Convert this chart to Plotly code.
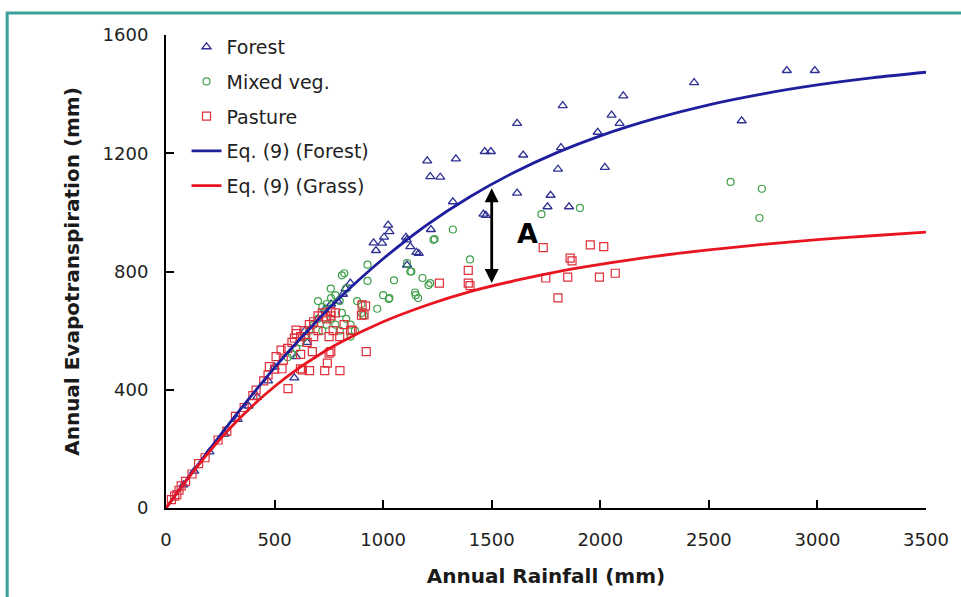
import plotly.graph_objects as go

forest_p = [2859, 2988, 2432, 2106, 1827, 2052, 2089, 2651, 1617, 1988, 1819, 1468, 1496, 1645,
            1335, 1203, 1217, 1263, 1805, 2021, 1321, 1617, 1771, 1757, 1856, 1462, 1473, 1023,
            1029, 1004, 956, 1105, 1220, 967, 1125, 1153, 1164, 995, 1109, 1110, 849, 827, 815,
            790, 760, 730, 700, 640, 599, 591, 500, 650, 470, 420, 380, 330, 270, 200, 130, 80]
forest_et = [1480, 1480, 1439, 1394, 1361, 1329, 1301, 1310, 1301, 1271, 1219, 1206, 1206, 1194,
             1181, 1174, 1121, 1119, 1146, 1152, 1036, 1065, 1058, 1019, 1019, 994, 990, 957,
             935, 916, 897, 916, 942, 871, 884, 865, 861, 896, 907, 822, 761, 742, 723,
             700, 690, 670, 640, 600, 512, 440, 477, 560, 430, 375, 345, 300, 250, 190, 125, 78]

mixed_p = [2600, 2744, 2733, 1906, 1729, 1400, 1237, 1321, 1110, 1130, 1181, 1217, 1147, 1161,
           928, 928, 973, 1029, 900, 911, 810, 821, 759, 829, 1232, 1125, 1026, 1209, 1150,
           700, 720, 740, 760, 780, 800, 810, 830, 850, 870, 760, 740, 700, 680, 660, 640, 620,
           720, 780, 800, 850, 600, 580, 560, 880, 900, 1000, 1050]
mixed_et = [1103, 1080, 981, 1015, 994, 841, 910, 942, 828, 800, 778, 761, 729, 710,
            823, 768, 674, 710, 690, 652, 787, 794, 742, 742, 907, 800, 707, 754, 720,
            700, 680, 690, 710, 720, 700, 660, 640, 620, 600, 640, 620, 640, 620, 600, 580, 560,
            600, 620, 600, 580, 540, 520, 510, 700, 660, 720, 770]

pasture_p = [1737, 1954, 2016, 1861, 1870, 1749, 1850, 1805, 1996, 2069, 1392, 1392, 1400, 1259,
             922, 900, 919, 801, 731, 759, 562, 661, 619, 534, 743, 751, 751, 674, 628, 591,
             599, 736, 759, 903, 912, 857, 476, 507, 530, 415, 560, 580, 600, 620, 640, 660,
             680, 700, 720, 740, 760, 780, 700, 680, 650, 620, 540, 500, 470, 450, 400, 360,
             320, 280, 240, 180, 150, 120, 90, 60, 40, 25, 50, 70, 800, 820, 770, 850]
pasture_et = [881, 890, 884, 845, 836, 778, 781, 711, 781, 794, 804, 761, 752, 761,
              529, 652, 684, 465, 465, 529, 404, 465, 471, 471, 490, 524, 580, 529, 467, 575,
              602, 647, 664, 687, 653, 602, 478, 512, 534, 399, 540, 560, 590, 580, 600, 620,
              630, 650, 660, 640, 650, 660, 600, 580, 560, 520, 500, 470, 450, 430, 380, 340,
              310, 260, 230, 170, 150, 115, 90, 60, 40, 28, 45, 75, 580, 620, 600, 600]

# ---- Eq. (9) curves ----
curve_p = [0, 100, 200, 300, 400, 500, 600, 700, 800, 1000, 1200, 1400, 1600, 1800, 2000,
           2250, 2500, 2750, 3000, 3250, 3500]
forest_curve = [0, 100, 198, 294, 386, 475, 558, 637, 711, 843, 957, 1053, 1134, 1202, 1259,
                1317, 1364, 1401, 1431, 1455, 1474]
grass_curve = [0, 99, 191, 274, 347, 411, 467, 516, 559, 630, 686, 732, 768, 799, 824,
               851, 873, 892, 908, 921, 933]

x_ticks = [0, 500, 1000, 1500, 2000, 2500, 3000, 3500]
y_ticks = [0, 400, 800, 1200, 1600]

FONT = "DejaVu Sans"

fig = go.Figure()
fig.add_trace(go.Scatter(x=forest_p, y=forest_et, mode="markers", name="Forest",
                         legendgroup="a",
                         marker=dict(symbol="triangle-up-open", size=8, color="#2e3192",
                                     line=dict(width=1.3))))
fig.add_trace(go.Scatter(x=mixed_p, y=mixed_et, mode="markers", name="Mixed veg.",
                         legendgroup="b",
                         marker=dict(symbol="circle-open", size=7, color="#3f9f4a",
                                     line=dict(width=1.2))))
fig.add_trace(go.Scatter(x=pasture_p, y=pasture_et, mode="markers", name="Pasture",
                         legendgroup="c",
                         marker=dict(symbol="square-open", size=8, color="#de2f3a",
                                     line=dict(width=1.2))))
fig.add_trace(go.Scatter(x=curve_p, y=forest_curve, mode="lines", name="Eq. (9) (Forest)",
                         legendgroup="d",
                         line=dict(color="#1f1f9e", width=2.8, shape="spline")))
fig.add_trace(go.Scatter(x=curve_p, y=grass_curve, mode="lines", name="Eq. (9) (Grass)",
                         legendgroup="e",
                         line=dict(color="#e8141f", width=2.8, shape="spline")))

# double-headed arrow "A"
fig.add_annotation(x=1500, y=1082, ax=1500, ay=756, xref="x", yref="y", axref="x", ayref="y",
                   text="", showarrow=True, arrowhead=2, arrowside="end+start",
                   arrowsize=1.0, arrowwidth=2.8, arrowcolor="black")
fig.add_annotation(x=1665, y=930, xref="x", yref="y", text="<b>A</b>", showarrow=False,
                   font=dict(family=FONT, size=27, color="black"))

# teal frame
fig.add_shape(type="rect", xref="paper", yref="paper", x0=-0.209, y0=-0.5, x1=1.2, y1=1.0465,
              line=dict(color="#3b9f9a", width=3), layer="above")

axis_common = dict(showline=True, linecolor="black", linewidth=2, ticks="inside",
                   ticklen=8, tickwidth=2, tickcolor="black", showgrid=False, zeroline=False,
                   tickfont=dict(family=FONT, size=18, color="#222222"))

fig.update_layout(
    width=961, height=597,
    margin=dict(l=166, r=29, t=35, b=89),
    paper_bgcolor="white", plot_bgcolor="white",
    font=dict(family=FONT, color="#222222"),
    showlegend=True,
    legend=dict(x=0.027, y=1.015, xanchor="left", yanchor="top", bgcolor="rgba(0,0,0,0)",
                font=dict(family=FONT, size=19, color="#222222"),
                traceorder="grouped", tracegroupgap=7, itemwidth=30),
    xaxis=dict(range=[0, 3500], tickvals=x_ticks, ticklabelstandoff=14,
               title=dict(text="<b>Annual Rainfall (mm)</b>", standoff=20,
                          font=dict(family=FONT, size=20, color="#1a1a1a")),
               **axis_common),
    yaxis=dict(range=[0, 1600], tickvals=y_ticks, ticklabelstandoff=12,
               title=dict(text="<b>Annual Evapotranspiration (mm)</b>", standoff=18,
                          font=dict(family=FONT, size=20, color="#1a1a1a")),
               **axis_common),
)

fig.write_html("out.html", config={"displayModeBar": False},
               post_script="document.body.style.margin='0';")
